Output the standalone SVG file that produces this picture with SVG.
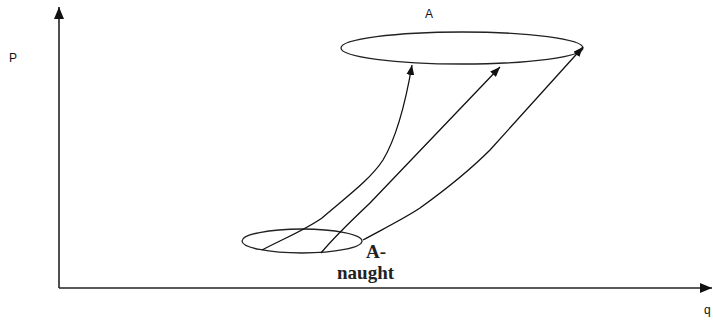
<svg xmlns="http://www.w3.org/2000/svg" width="713" height="323" viewBox="0 0 713 323">
<defs>
<style>
.ax{stroke:#222;stroke-width:1.6;fill:none}
.cv{stroke:#111;stroke-width:1.3;fill:none}
.el{stroke:#222;stroke-width:1.3;fill:none}
.sans{font-family:"Liberation Sans",Arial,sans-serif;font-size:12px;fill:#111}
.serif{font-family:"Liberation Serif","Times New Roman",serif;font-size:19px;font-weight:bold;fill:#222}
</style>
<marker id="ah" viewBox="0 0 10 8" refX="10" refY="4" markerWidth="10" markerHeight="8" markerUnits="userSpaceOnUse" orient="auto">
<path d="M0,0 L10,4 L0,8 Z" fill="#111"/>
</marker>
<marker id="axh" viewBox="0 0 12 10" refX="12" refY="5" markerWidth="12" markerHeight="10" markerUnits="userSpaceOnUse" orient="auto">
<path d="M0,0 L12,5 L0,10 Z" fill="#111"/>
</marker>
</defs>
<g id="axes">
<line class="ax" x1="59" y1="288" x2="59" y2="7" marker-end="url(#axh)"/>
<line class="ax" x1="59" y1="288" x2="712" y2="288" marker-end="url(#axh)"/>
<text class="sans" x="9" y="62">P</text>
<text class="sans" x="704" y="314">q</text>
</g>
<g id="nodeA">
<ellipse class="el" cx="462" cy="48" rx="121" ry="16"/>
<text class="sans" x="425" y="18">A</text>
</g>
<g id="nodeA0">
<ellipse class="el" cx="302" cy="241" rx="60" ry="12"/>
<text class="serif" x="366" y="258">A-</text>
<text class="serif" x="337" y="279">naught</text>
</g>
<g id="connectors">
<path class="cv" d="M262,250 C285,238 305,230 322,218 C345,198 370,180 383,160 C398,135 406,100 412,65" marker-end="url(#ah)"/>
<path class="cv" d="M321,253 C335,236 352,220 370,203 L500,67" marker-end="url(#ah)"/>
<path class="cv" d="M363,240 C385,228 405,218 420,208 C445,190 470,170 490,150 L583,47" marker-end="url(#ah)"/>
</g>
</svg>
